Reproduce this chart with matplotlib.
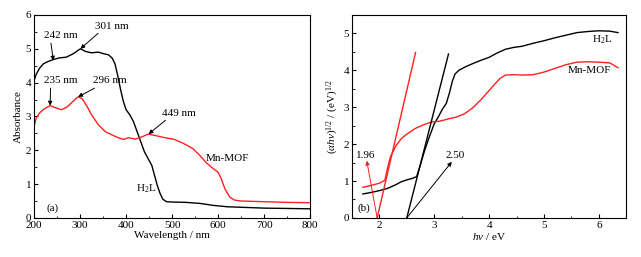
import numpy as np
import matplotlib
matplotlib.use('Agg')
import matplotlib.pyplot as plt
from matplotlib.ticker import MultipleLocator

plt.rcParams['font.family'] = ['Liberation Serif', 'DejaVu Serif']
plt.rcParams['font.size'] = 8
plt.rcParams['mathtext.fontset'] = 'custom'
plt.rcParams['mathtext.rm'] = 'Liberation Serif'
plt.rcParams['mathtext.it'] = 'Liberation Serif:italic'

# (a) UV-vis absorbance
wl_h2l = [200, 205, 212, 220, 230, 242, 255, 270, 285, 301, 312, 325, 340, 352, 362, 370, 376,
          382, 388, 394, 400, 408, 416, 424, 432, 440, 448, 456, 462, 468, 474, 480, 488, 500,
          530, 560, 590, 620, 660, 700, 750, 800]
abs_h2l = [4.05, 4.25, 4.42, 4.55, 4.62, 4.68, 4.73, 4.75, 4.85, 5.0, 4.92, 4.88, 4.9, 4.85, 4.82,
           4.72, 4.55, 4.2, 3.8, 3.45, 3.2, 3.05, 2.85, 2.55, 2.25, 1.95, 1.75, 1.55, 1.25, 0.95,
           0.72, 0.55, 0.48, 0.47, 0.46, 0.43, 0.37, 0.33, 0.31, 0.29, 0.28, 0.27]
wl_mof = [200, 205, 212, 222, 235, 248, 260, 272, 285, 296, 305, 315, 325, 340, 355, 370, 385,
          395, 405, 420, 435, 449, 465, 485, 505, 525, 545, 560, 575, 590, 600, 607, 615, 625,
          635, 650, 700, 750, 800]
abs_mof = [2.7, 2.95, 3.1, 3.22, 3.32, 3.25, 3.2, 3.28, 3.45, 3.58, 3.52, 3.3, 3.05, 2.75, 2.55,
           2.45, 2.36, 2.32, 2.37, 2.33, 2.4, 2.48, 2.43, 2.37, 2.32, 2.2, 2.05, 1.85, 1.62, 1.45,
           1.35, 1.15, 0.85, 0.62, 0.53, 0.5, 0.48, 0.46, 0.45]

# (b) Tauc plot
ev_h2l = [1.7, 1.85, 2.0, 2.15, 2.3, 2.4, 2.5, 2.6, 2.68, 2.75, 2.82, 2.9, 3.0, 3.08, 3.15, 3.22,
          3.28, 3.33, 3.38, 3.45, 3.55, 3.7, 3.85, 4.0, 4.15, 4.3, 4.45, 4.6, 4.8, 5.0, 5.2, 5.4,
          5.6, 5.8, 6.0, 6.2, 6.35]
tauc_h2l = [0.65, 0.69, 0.74, 0.8, 0.9, 0.98, 1.03, 1.07, 1.12, 1.45, 1.8, 2.15, 2.55, 2.75, 2.95,
            3.1, 3.4, 3.7, 3.9, 4.0, 4.08, 4.18, 4.27, 4.35, 4.47, 4.57, 4.62, 4.65, 4.73, 4.8,
            4.88, 4.95, 5.02, 5.05, 5.07, 5.06, 5.02]
ev_mof = [1.7, 1.85, 2.0, 2.1, 2.15, 2.2, 2.3, 2.4, 2.5, 2.65, 2.8, 2.95, 3.1, 3.25, 3.4, 3.55,
          3.7, 3.85, 4.0, 4.1, 4.2, 4.3, 4.45, 4.6, 4.8, 5.0, 5.2, 5.4, 5.6, 5.8, 6.0, 6.2, 6.35]
tauc_mof = [0.83, 0.88, 0.94, 1.02, 1.35, 1.65, 1.95, 2.15, 2.27, 2.42, 2.52, 2.6, 2.62, 2.68,
            2.73, 2.82, 2.98, 3.2, 3.45, 3.62, 3.78, 3.87, 3.88, 3.87, 3.88, 3.95, 4.05, 4.15,
            4.22, 4.23, 4.22, 4.2, 4.07]
fit_mof_x = [1.96, 2.66]
fit_mof_y = [0.0, 4.48]
fit_h2l_x = [2.50, 3.26]
fit_h2l_y = [0.0, 4.44]

red = '#ff2020'

fig = plt.figure(figsize=(6.41, 2.57), dpi=100)
ax1 = fig.add_axes([0.053, 0.152, 0.431, 0.790])
ax2 = fig.add_axes([0.549, 0.152, 0.428, 0.790])

ax1.plot(wl_h2l, abs_h2l, color='black', lw=1.0)
ax1.plot(wl_mof, abs_mof, color=red, lw=1.0)
ax1.set_xlim(200, 800)
ax1.set_ylim(0, 6)
ax1.xaxis.set_major_locator(MultipleLocator(100))
ax1.xaxis.set_minor_locator(MultipleLocator(50))
ax1.yaxis.set_major_locator(MultipleLocator(1))
ax1.yaxis.set_minor_locator(MultipleLocator(0.5))
ax1.set_xlabel('Wavelength / nm', labelpad=1)
ax1.set_ylabel('Absorbance', labelpad=2)

arr = dict(arrowstyle='-|>', color='black', lw=0.7, mutation_scale=6, shrinkA=0, shrinkB=0)
ax1.annotate('242 nm', xy=(242, 4.65), xytext=(258, 5.38), ha='center', va='center',
             arrowprops=dict(arr, relpos=(0.2, 0.0)))
ax1.annotate('301 nm', xy=(301, 5.0), xytext=(368, 5.67), ha='center', va='center',
             arrowprops=dict(arr, relpos=(0.2, 0.0)))
ax1.annotate('235 nm', xy=(235, 3.32), xytext=(258, 4.05), ha='center', va='center',
             arrowprops=dict(arr, relpos=(0.2, 0.0)))
ax1.annotate('296 nm', xy=(296, 3.58), xytext=(365, 4.05), ha='center', va='center',
             arrowprops=dict(arr, relpos=(0.2, 0.0)))
ax1.annotate('449 nm', xy=(449, 2.48), xytext=(515, 3.1), ha='center', va='center',
             arrowprops=dict(arr, relpos=(0.2, 0.0)))
ax1.text(620, 1.77, 'Mn-MOF', ha='center', va='center')
ax1.text(444, 0.86, r'H$_2$L', ha='center', va='center')
ax1.text(240, 0.30, '(a)', ha='center', va='center')

ax2.plot(ev_h2l, tauc_h2l, color='black', lw=1.0)
ax2.plot(ev_mof, tauc_mof, color=red, lw=1.0)
ax2.plot(fit_mof_x, fit_mof_y, color=red, lw=1.0)
ax2.plot(fit_h2l_x, fit_h2l_y, color='black', lw=1.0)
ax2.set_xlim(1.5, 6.5)
ax2.set_ylim(0, 5.5)
ax2.xaxis.set_major_locator(MultipleLocator(1))
ax2.xaxis.set_minor_locator(MultipleLocator(0.5))
ax2.yaxis.set_major_locator(MultipleLocator(1))
ax2.yaxis.set_minor_locator(MultipleLocator(0.5))
ax2.set_xlabel(r'$hv$ / eV', labelpad=1)
ax2.set_ylabel(r'($\alpha hv$)$^{1/2}$ / (eV)$^{1/2}$', labelpad=2)

ax2.annotate('', xy=(1.77, 1.55), xytext=(1.96, 0.0),
             arrowprops=dict(arr, color=red))
ax2.text(1.76, 1.69, '1.96', ha='center', va='center')
ax2.annotate('', xy=(3.32, 1.52), xytext=(2.50, 0.0), arrowprops=arr)
ax2.text(3.38, 1.69, '2.50', ha='center', va='center')
ax2.text(6.07, 4.82, r'H$_2$L', ha='center', va='center')
ax2.text(5.83, 4.0, 'Mn-MOF', ha='center', va='center')
ax2.text(1.72, 0.27, '(b)', ha='center', va='center')

for ax in (ax1, ax2):
    ax.tick_params(which='both', direction='in', top=False, right=False, labelsize=8, pad=2)
    ax.tick_params(which='major', length=3)
    ax.tick_params(which='minor', length=1.8)
    for s in ax.spines.values():
        s.set_linewidth(0.8)

fig.savefig('out.png', dpi=100)
